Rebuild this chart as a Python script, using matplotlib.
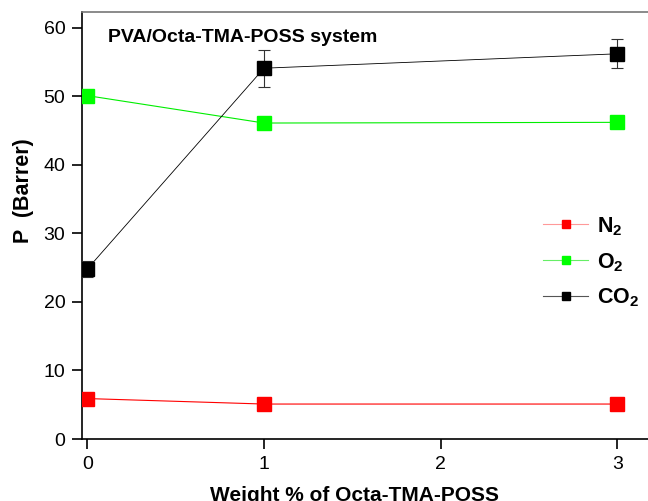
import numpy as np
import matplotlib
matplotlib.use('Agg')
import matplotlib.pyplot as plt
from matplotlib.lines import Line2D

plt.rcParams['font.family'] = ['Liberation Sans', 'DejaVu Sans']
plt.rcParams['mathtext.fontset'] = 'custom'
plt.rcParams['mathtext.rm'] = 'Liberation Sans:bold'
plt.rcParams['mathtext.bf'] = 'Liberation Sans:bold'

wt = [0, 1, 3]
n2 = [5.9, 5.1, 5.1]
o2 = [50.1, 46.1, 46.2]
co2 = [24.8, 54.1, 56.2]
co2_err = [1.2, 2.7, 2.1]

W, H = 648, 501
fig = plt.figure(figsize=(W/100, H/100), dpi=100)
ax = fig.add_axes([82/W, 1-439/H, 1-82/W+0.01, (439-12)/H])

ax.plot(wt, n2, color='red', lw=0.8, marker='s', ms=9.5, mec='red', mfc='red', zorder=3)
ax.plot(wt, o2, color='#00ee00', lw=0.8, marker='s', ms=9.5, mec='#00ff00', mfc='#00ff00', zorder=3)
ax.errorbar(wt, co2, yerr=co2_err, color='black', lw=0.6, marker='s', ms=9.5,
            ecolor='#333333', elinewidth=0.8, capsize=4, capthick=0.8, zorder=4)

ax.set_xlim(-0.03, 3.21)
ax.set_ylim(0, 62.3)
ax.set_xticks([0, 1, 2, 3])
ax.set_yticks([0, 10, 20, 30, 40, 50, 60])
ax.spines['right'].set_visible(False)
for s in ['left', 'bottom', 'top']:
    ax.spines[s].set_linewidth(1.2)
ax.spines['top'].set_color('#777777')
ax.tick_params(direction='out', length=7, width=1.2, labelsize=14, pad=5)

fig.text(355/W, 0.0, 'Weight % of Octa-TMA-POSS', fontsize=15, fontweight='bold',
         ha='center', va='baseline')
fig.text(23/W, 1-191/H, 'P  (Barrer)', fontsize=15.5, fontweight='bold',
         ha='center', va='center', rotation=90)
fig.text(108/W, 1-42/H, 'PVA/Octa-TMA-POSS system', fontsize=14,
         fontweight='bold', va='baseline')

handles = [
    Line2D([], [], color='#ff9999', lw=0.8, marker='s', ms=5.5, mfc='red', mec='red'),
    Line2D([], [], color='#66ee66', lw=0.8, marker='s', ms=5.5, mfc='#00ff00', mec='#00ff00'),
    Line2D([], [], color='#555555', lw=0.8, marker='s', ms=5.5, mfc='black', mec='black'),
]
labels = ['N$_2$', 'O$_2$', 'CO$_2$']
leg = ax.legend(handles, labels, loc='upper left', bbox_to_anchor=(543/W, 1-215/H),
                bbox_transform=fig.transFigure, frameon=False, fontsize=15.5,
                borderpad=0, borderaxespad=0,
                handlelength=2.1, handletextpad=0.4, labelspacing=0.62)
for t in leg.get_texts():
    t.set_fontweight('bold')

fig.savefig('out.png', dpi=100)
